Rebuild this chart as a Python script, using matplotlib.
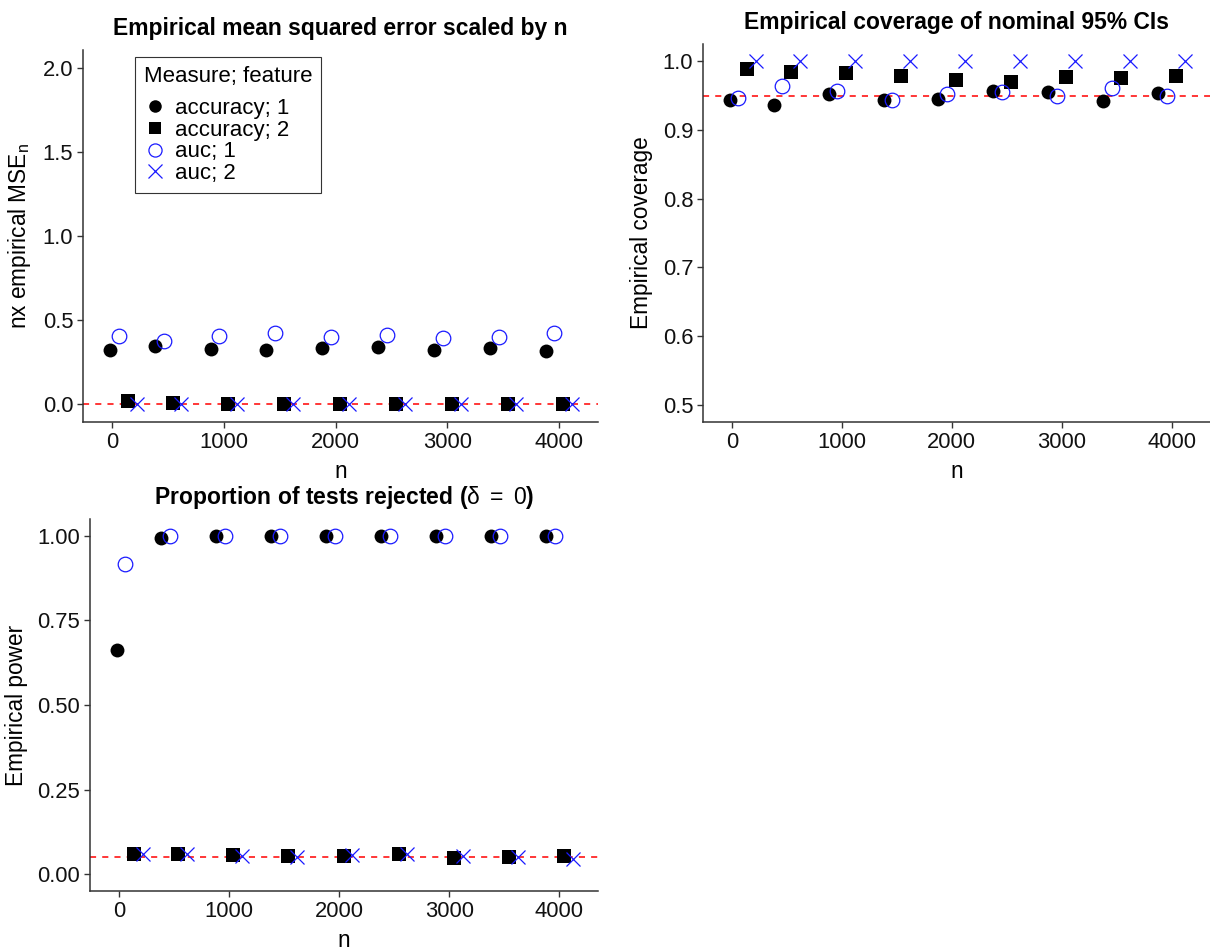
import matplotlib
matplotlib.use('Agg')
from matplotlib import pyplot as plt
import numpy as np

plt.rcParams['font.family'] = ['Liberation Sans', 'DejaVu Sans']
plt.rcParams['mathtext.fontset'] = 'custom'
plt.rcParams['mathtext.rm'] = 'Liberation Sans'
plt.rcParams['mathtext.it'] = 'Liberation Sans:italic'
plt.rcParams['mathtext.bf'] = 'Liberation Sans:bold'

# sample sizes
n = [100, 500, 1000, 1500, 2000, 2500, 3000, 3500, 4000]
labels = ['accuracy; 1', 'accuracy; 2', 'auc; 1', 'auc; 2']

# n x empirical MSE
mse_acc1 = [0.325, 0.345, 0.329, 0.325, 0.333, 0.341, 0.321, 0.335, 0.315]
mse_acc2 = [0.018, 0.007, 0.004, 0.003, 0.002, 0.002, 0.002, 0.002, 0.002]
mse_auc1 = [0.404, 0.374, 0.404, 0.424, 0.400, 0.414, 0.394, 0.398, 0.424]
mse_auc2 = [0.002, 0.001, 0.001, 0.001, 0.001, 0.001, 0.001, 0.001, 0.001]

# empirical coverage
cov_acc1 = [0.943, 0.936, 0.952, 0.943, 0.945, 0.957, 0.955, 0.942, 0.953]
cov_acc2 = [0.988, 0.984, 0.983, 0.979, 0.972, 0.970, 0.977, 0.976, 0.978]
cov_auc1 = [0.946, 0.964, 0.956, 0.944, 0.952, 0.955, 0.949, 0.961, 0.950]
cov_auc2 = [1.0, 1.0, 1.0, 1.0, 1.0, 1.0, 1.0, 1.0, 1.0]

# empirical power
pow_acc1 = [0.663, 0.993, 1.0, 1.0, 1.0, 1.0, 1.0, 1.0, 1.0]
pow_acc2 = [0.058, 0.058, 0.056, 0.053, 0.053, 0.059, 0.048, 0.051, 0.054]
pow_auc1 = [0.916, 1.0, 1.0, 1.0, 1.0, 1.0, 1.0, 1.0, 1.0]
pow_auc2 = [0.059, 0.058, 0.054, 0.051, 0.056, 0.058, 0.054, 0.051, 0.046]

# dodge offsets and marker styles per group
dodge = {'accuracy; 1': -120, 'auc; 1': -40, 'accuracy; 2': 40, 'auc; 2': 120}
styles = {
    'accuracy; 1': dict(marker='o', color='black', markersize=10, markeredgewidth=0),
    'accuracy; 2': dict(marker='s', color='black', markersize=10, markeredgewidth=0),
    'auc; 1': dict(marker='o', markerfacecolor='none', markeredgecolor='#1a1aff',
                   markersize=10.5, markeredgewidth=0.9),
    'auc; 2': dict(marker='x', color='#1a1aff', markersize=10.5, markeredgewidth=0.9),
}

W, H = 1210, 950
fig = plt.figure(figsize=(W / 100, H / 100), dpi=100)


def box(l, t, r, b):
    return [l / W, 1 - b / H, (r - l) / W, (b - t) / H]


def panel(rect, series, ref, ylim, yticks, yfmt, title, ylabel):
    ax = fig.add_axes(rect)
    for lab, vals in zip(labels, series):
        x = np.array(n) + dodge[lab]
        ax.plot(x, vals, linestyle='none', label=lab, **styles[lab])
    ax.axhline(ref, color='red', linestyle=(0, (4, 4)), linewidth=1.1, zorder=0)
    ax.set_xlim(-262, 4350)
    ax.set_ylim(*ylim)
    ax.set_xticks([0, 1000, 2000, 3000, 4000])
    ax.set_yticks(yticks)
    ax.set_yticklabels([yfmt % v for v in yticks])
    for s in ['top', 'right']:
        ax.spines[s].set_visible(False)
    for s in ['left', 'bottom']:
        ax.spines[s].set_color('#333333')
        ax.spines[s].set_linewidth(1.1)
    ax.tick_params(labelsize=15.8, length=4, width=1, color='#333333',
                   labelcolor='#111111', pad=3)
    ax.set_title(title, fontsize=16.5, fontweight='bold', pad=11)
    ax.set_xlabel('n', fontsize=16.3, labelpad=5)
    ax.set_ylabel(ylabel, fontsize=16.3, labelpad=7)
    return ax


ax1 = panel(box(83, 50, 598, 422), [mse_acc1, mse_acc2, mse_auc1, mse_auc2], 0.0,
            (-0.105, 2.105), [0.0, 0.5, 1.0, 1.5, 2.0], '%.1f',
            'Empirical mean squared error scaled by n',
            r'nx empirical MSE$_\mathregular{n}$')
leg = ax1.legend(title='Measure; feature', loc='upper left',
                 bbox_to_anchor=(0.101, 0.981), fontsize=16, title_fontsize=16,
                 fancybox=False, edgecolor='#333333', framealpha=1,
                 handletextpad=0.4, labelspacing=0.03, borderpad=0.4,
                 handlelength=1.0, markerscale=0.9, borderaxespad=0)
leg.get_frame().set_linewidth(0.8)
leg._legend_box.align = 'left'
leg._legend_box.sep = 8

ax2 = panel(box(703, 44, 1210, 422), [cov_acc1, cov_acc2, cov_auc1, cov_auc2], 0.95,
            (0.475, 1.025), [0.5, 0.6, 0.7, 0.8, 0.9, 1.0], '%.1f',
            'Empirical coverage of nominal 95% CIs', 'Empirical coverage')

ax3 = panel(box(90, 519, 598, 891), [pow_acc1, pow_acc2, pow_auc1, pow_auc2], 0.05,
            (-0.05, 1.05), [0.0, 0.25, 0.5, 0.75, 1.0], '%.2f',
            r'Proportion of tests rejected ($\mathrm{\delta\ =\ 0}$)', 'Empirical power')

fig.savefig('out.png', dpi=100)
